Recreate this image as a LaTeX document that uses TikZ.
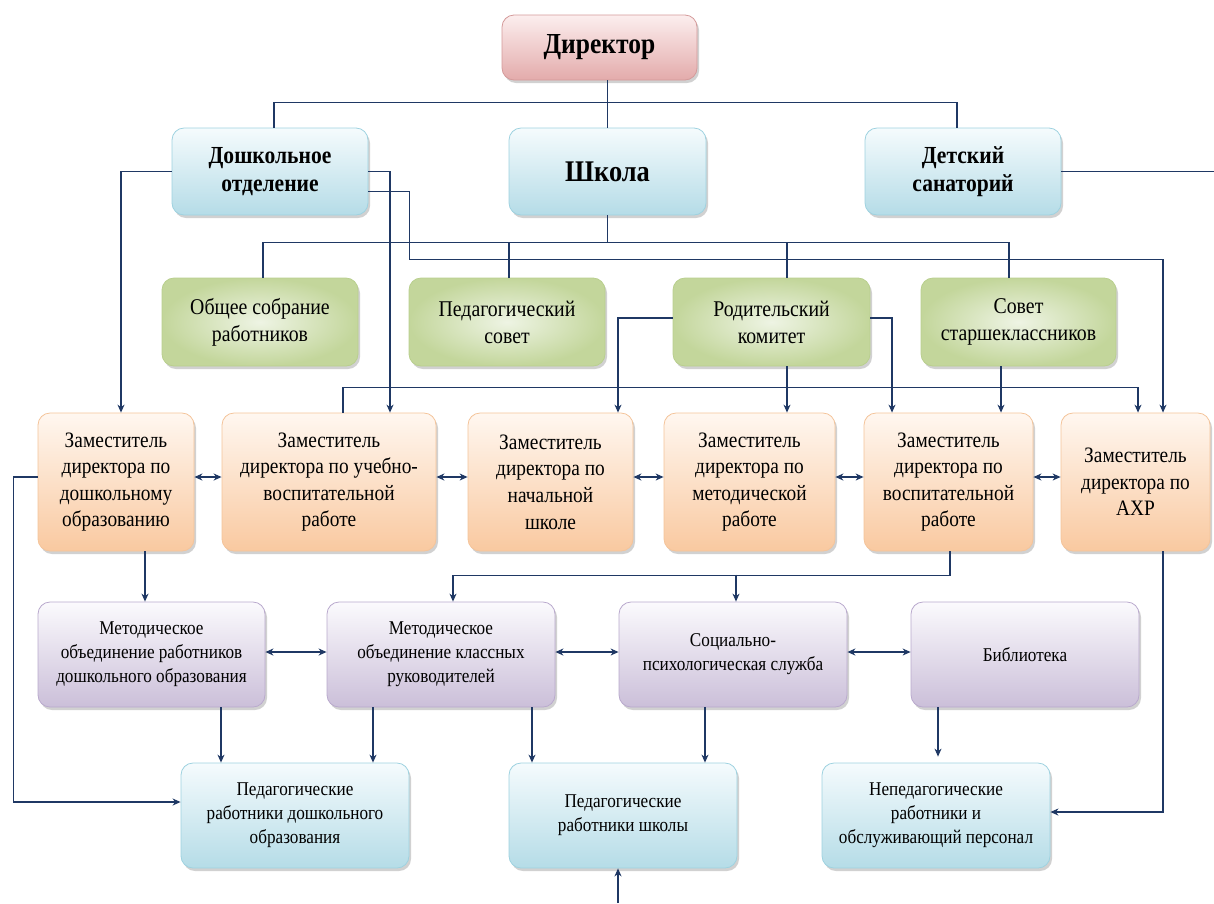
\documentclass[tikz,border=0pt]{standalone}
\usepackage{fontspec}
\setmainfont{Liberation Serif}[FakeStretch=0.88]
\usetikzlibrary{shadows,arrows.meta,calc}
\definecolor{lnc}{HTML}{1F3864}
\definecolor{redB}{HTML}{E3ABAB}\definecolor{redT}{HTML}{FCEEEE}\definecolor{redD}{HTML}{D49A9A}
\definecolor{bluB}{HTML}{B5DCE7}\definecolor{bluT}{HTML}{F5FBFD}\definecolor{bluD}{HTML}{9ED2E0}
\definecolor{grnO}{HTML}{C3D69B}\definecolor{grnI}{HTML}{EEF4E4}\definecolor{grnD}{HTML}{B9CF8E}
\definecolor{orgB}{HTML}{F9C9A0}\definecolor{orgT}{HTML}{FFF7F0}\definecolor{orgD}{HTML}{F4C49A}
\definecolor{purB}{HTML}{CBBFD9}\definecolor{purT}{HTML}{FBFAFD}\definecolor{purD}{HTML}{B9A9CD}
\tikzset{
  box/.style={rounded corners=12pt, line width=0.8pt, align=center, inner sep=2pt,
    drop shadow={shadow xshift=2pt, shadow yshift=-3pt, opacity=0.3, fill=black!60}},
  redbox/.style={box, draw=redD, top color=redT, bottom color=redB},
  blubox/.style={box, draw=bluD, top color=bluT, bottom color=bluB},
  grnbox/.style={box, draw=grnD, inner color=grnI, outer color=grnO},
  orgbox/.style={box, draw=orgD, top color=orgT, bottom color=orgB},
  purbox/.style={box, draw=purD, top color=purT, bottom color=purB},
  conn/.style={draw=lnc, line width=1.2pt},
  arr/.style={conn, -{Stealth[length=8pt,width=7pt,inset=2.5pt]}},
  darr/.style={conn, {Stealth[length=8pt,width=7pt,inset=2.5pt]}-{Stealth[length=8pt,width=7pt,inset=2.5pt]}},
  ftop/.style={font=\fontsize{24.5}{28}\selectfont\bfseries},
  fgrn/.style={font=\fontsize{22.5}{27}\selectfont},
  forg/.style={font=\fontsize{22}{26.6}\selectfont},
  fbot/.style={font=\fontsize{19.5}{24}\selectfont},
}
\begin{document}
\begin{tikzpicture}[x=1pt,y=-1pt]
\useasboundingbox (0,0) rectangle (1214,903);
% top
\node[redbox, minimum width=195pt, minimum height=65pt, font=\fontsize{29}{32}\selectfont\bfseries] (dir) at (599.5,47.5) {Директор};
\node[blubox, ftop, minimum width=196pt, minimum height=87pt] (dosh) at (270,171.5) {Дошкольное\\отделение};
\node[blubox, minimum width=197pt, minimum height=87pt, font=\fontsize{30}{33}\selectfont\bfseries] (shk) at (607.5,171.5) {Школа};
\node[blubox, ftop, minimum width=196pt, minimum height=87pt] (san) at (963,171.5) {Детский\\санаторий};
% green
\node[grnbox, fgrn, minimum width=196pt, minimum height=88pt] (g1) at (260,322) {Общее собрание\\работников};
\node[grnbox, fgrn, minimum width=196pt, minimum height=88pt] (g2) at (507,322) {Педагогический\\совет};
\node[grnbox, fgrn, minimum width=197pt, minimum height=88pt] (g3) at (771.5,322) {Родительский\\комитет};
\node[grnbox, fgrn, minimum width=195pt, minimum height=88pt] (g4) at (1018.5,322) {Совет\\старшеклассников};
% orange
\node[orgbox, forg, minimum width=156pt, minimum height=138pt] (o1) at (116,482) {Заместитель\\директора по\\дошкольному\\образованию};
\node[orgbox, forg, minimum width=214pt, minimum height=138pt] (o2) at (329,482) {Заместитель\\директора по учебно-\\воспитательной\\работе};
\node[orgbox, forg, minimum width=165pt, minimum height=138pt] (o3) at (550.5,482) {Заместитель\\директора по\\начальной\\школе};
\node[orgbox, forg, minimum width=171pt, minimum height=138pt] (o4) at (749.5,482) {Заместитель\\директора по\\методической\\работе};
\node[orgbox, forg, minimum width=169pt, minimum height=138pt] (o5) at (948.5,482) {Заместитель\\директора по\\воспитательной\\работе};
\node[orgbox, forg, minimum width=149pt, minimum height=138pt] (o6) at (1135.5,482) {Заместитель\\директора по\\АХР};
% purple
\node[purbox, fbot, minimum width=227pt, minimum height=105pt] (p1) at (151.5,654.5) {Методическое\\объединение работников\\дошкольного образования};
\node[purbox, fbot, minimum width=228pt, minimum height=105pt] (p2) at (441,654.5) {Методическое\\объединение классных\\руководителей};
\node[purbox, fbot, minimum width=228pt, minimum height=105pt] (p3) at (733,654.5) {Социально-\\психологическая служба};
\node[purbox, fbot, minimum width=228pt, minimum height=105pt] (p4) at (1025,654.5) {Библиотека};
% blue bottom
\node[blubox, fbot, minimum width=228pt, minimum height=105pt] (b1) at (295,815.5) {Педагогические\\работники дошкольного\\образования};
\node[blubox, fbot, minimum width=228pt, minimum height=105pt] (b2) at (623,815.5) {Педагогические\\работники школы};
\node[blubox, fbot, minimum width=228pt, minimum height=105pt] (b3) at (936,815.5) {Непедагогические\\работники и\\обслуживающий персонал};
\coordinate (sanout) at (1214,171.5);
\coordinate (bin) at (618,903);
% connectors top
\draw[conn] (shk.north |- dir.south) -- (shk.north);
\draw[conn] ([xshift=4pt]dosh.north) -- ++(0,-25) -| ([xshift=-6pt]san.north);
\draw[conn] (san.east) -- (sanout);
\draw[conn] (shk.south) -- ++(0,28);
\draw[conn] ([xshift=3pt]g1.north) -- ++(0,-35) -| ([xshift=-9.5pt]g4.north);
\draw[conn] ([xshift=2pt]g2.north) -- ++(0,-35);
\draw[conn] ([xshift=15.5pt]g3.north) -- ++(0,-35);
% from Дошкольное отделение
\draw[arr] (dosh.west) -| ([xshift=5pt]o1.north);
\draw[arr] (dosh.east) -| ([xshift=61pt]o2.north);
\draw[arr] ([yshift=-20pt]dosh.east) -- ++(41,0) -- ++(0,68) -| ([xshift=27.5pt]o6.north);
% Зам УВР -> АХР
\draw[arr] ([xshift=14pt]o2.north) -- ++(0,-25) -| ([xshift=2.5pt]o6.north);
% Родительский комитет
\draw[arr] ([yshift=4pt]g3.west) -| ([xshift=67.5pt]o3.north);
\draw[arr] ([yshift=4pt]g3.east) -| ([xshift=-56.5pt]o5.north);
\draw[arr] ([xshift=15.5pt]g3.south) -- ([xshift=15.5pt]g3.south |- o4.north);
\draw[arr] ([xshift=-17.5pt]g4.south) -- ([xshift=-17.5pt]g4.south |- o5.north);
% orange double arrows
\draw[darr] ([yshift=5pt]o1.east) -- ([yshift=5pt]o2.west);
\draw[darr] ([yshift=5pt]o2.east) -- ([yshift=5pt]o3.west);
\draw[darr] ([yshift=5pt]o3.east) -- ([yshift=5pt]o4.west);
\draw[darr] ([yshift=5pt]o4.east) -- ([yshift=5pt]o5.west);
\draw[darr] ([yshift=5pt]o5.east) -- ([yshift=5pt]o6.west);
% from orange row downward
\draw[arr] ([yshift=5pt]o1.west) -- ++(-24,0) |- ([yshift=13.5pt]b1.west);
\draw[arr] ([xshift=29pt]o1.south) -- ([xshift=29pt]o1.south |- p1.north);
\draw[arr] ([xshift=1.5pt]o5.south) -- ++(0,24) -| ([xshift=12pt]p2.north);
\draw[arr] ([xshift=3pt,yshift=27pt]p3.north) -- ([xshift=3pt]p3.north);
\draw[arr] ([xshift=27.5pt]o6.south) |- ([yshift=3.5pt]b3.east);
% purple double arrows
\draw[darr] ([yshift=2.5pt]p1.east) -- ([yshift=2.5pt]p2.west);
\draw[darr] ([yshift=2.5pt]p2.east) -- ([yshift=2.5pt]p3.west);
\draw[darr] ([yshift=2.5pt]p3.east) -- ([yshift=2.5pt]p4.west);
% purple to bottom
\draw[arr] ([xshift=69.5pt]p1.south) -- ([xshift=69.5pt]p1.south |- b1.north);
\draw[arr] ([xshift=-68pt]p2.south) -- ([xshift=-68pt]p2.south |- b1.north);
\draw[arr] ([xshift=91pt]p2.south) -- ([xshift=91pt]p2.south |- b2.north);
\draw[arr] ([xshift=-28pt]p3.south) -- ([xshift=-28pt]p3.south |- b2.north);
\draw[arr] ([xshift=-87pt]p4.south) -- ([xshift=-87pt,yshift=6pt]p4.south |- b3.north);
\draw[arr] (bin) -- (bin |- b2.south);
\end{tikzpicture}
\end{document}
